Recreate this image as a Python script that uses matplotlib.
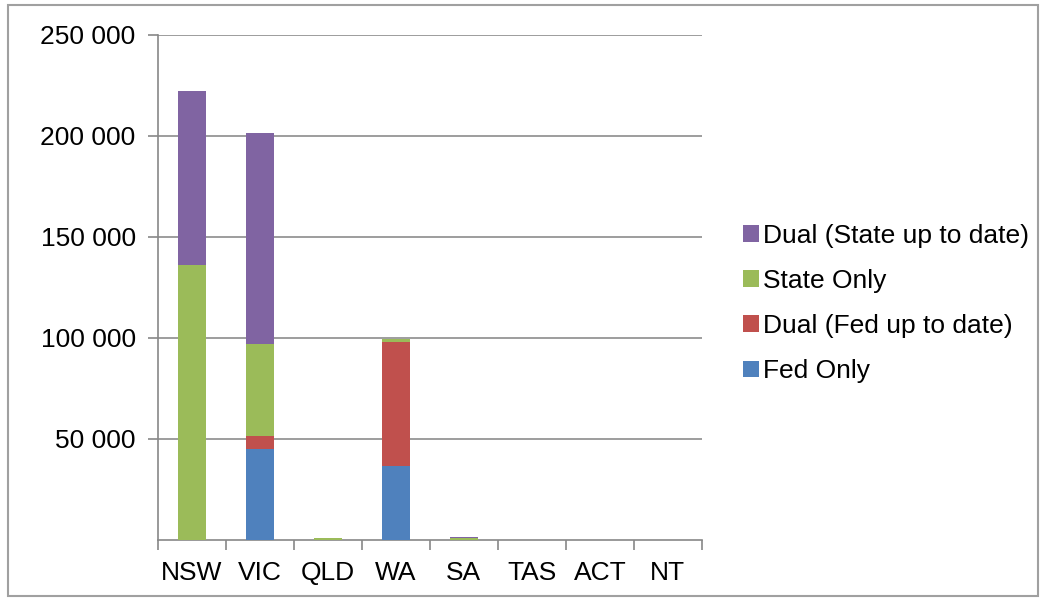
import matplotlib.pyplot as plt
import numpy as np

plt.rcParams['font.family'] = ['Liberation Sans', 'DejaVu Sans']

states = ["NSW", "VIC", "QLD", "WA", "SA", "TAS", "ACT", "NT"]
fed_only = [0, 45000, 0, 36600, 0, 0, 0, 0]
dual_fed = [0, 6500, 0, 61400, 0, 0, 0, 0]
state_only = [136000, 45500, 800, 1500, 1000, 0, 0, 0]
dual_state = [86000, 104500, 0, 0, 500, 0, 0, 0]
yticks = [50000, 100000, 150000, 200000, 250000]
ytick_labels = ["50 000", "100 000", "150 000", "200 000", "250 000"]

series = [
    ("Fed Only", fed_only, "#4f81bd"),
    ("Dual (Fed up to date)", dual_fed, "#c0504d"),
    ("State Only", state_only, "#9bbb59"),
    ("Dual (State up to date)", dual_state, "#8064a2"),
]

fig = plt.figure(figsize=(10.46, 6.01), dpi=100)
ax = fig.add_axes([0.151, 0.1015, 0.52, 0.8405])

x = np.arange(len(states))
bottom = np.zeros(len(states))
handles = []
for name, vals, color in series:
    h = ax.bar(x, vals, width=0.41, bottom=bottom, color=color, label=name, zorder=3)
    bottom += np.array(vals)
    handles.append(h)

ax.set_xlim(-0.5, len(states) - 0.5)
ax.set_ylim(0, 250000)
ax.set_yticks(yticks)
ax.set_yticklabels(ytick_labels)
ax.set_xticks(x)
ax.set_xticklabels(states)
ax.set_xticks(np.arange(len(states) + 1) - 0.5, minor=True)
ax.tick_params(axis='x', which='major', length=0, labelsize=19, pad=15)
ax.tick_params(axis='x', which='minor', length=7, color='#888888', width=1.2)
ax.tick_params(axis='y', length=7, color='#888888', width=1.2, labelsize=19, pad=9)

ax.grid(axis='y', color='#8c8c8c', linewidth=1.2, zorder=0)
for s in ['top', 'right']:
    ax.spines[s].set_visible(False)
for s in ['left', 'bottom']:
    ax.spines[s].set_color('#888888')
    ax.spines[s].set_linewidth(1.2)

ax.legend(handles[::-1], [s[0] for s in series][::-1], loc='center left',
          bbox_to_anchor=(1.056, 0.468), frameon=False, fontsize=19,
          handlelength=0.6, handleheight=0.6, handletextpad=0.15, labelspacing=0.8,
          borderaxespad=0)

fig.patches.append(plt.Rectangle((0.008, 0.008), 0.984, 0.984, transform=fig.transFigure,
                                 fill=False, edgecolor='#a0a0a0', linewidth=1.5))

fig.savefig("out.png", dpi=100)
